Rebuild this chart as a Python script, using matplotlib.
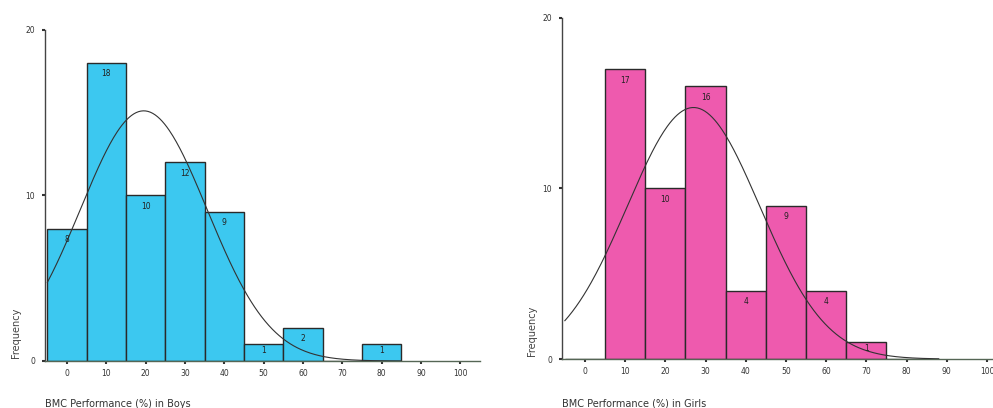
import numpy as np
import matplotlib
matplotlib.use("Agg")
import matplotlib.pyplot as plt

# bin centres (width 10) and counts
bins = [0, 10, 20, 30, 40, 50, 60, 70, 80]
boys = [8, 18, 10, 12, 9, 1, 2, 0, 1]
girls = [0, 17, 10, 16, 4, 9, 4, 1, 0]
xticks = [0, 10, 20, 30, 40, 50, 60, 70, 80, 90, 100]
yticks = [0, 10, 20]

# fitted normal curves (mean, sd) as drawn in the picture
boys_fit = (19.5, 16.1)
girls_fit = (27.0, 16.5)


def normal_curve(counts, fit, x):
    mu, sd = fit
    n = sum(counts)
    return n * 10 / (sd * np.sqrt(2 * np.pi)) * np.exp(-(x - mu) ** 2 / (2 * sd ** 2))


def draw(ax, counts, fit, color, xlim, xlabel, curve_end):
    ax.bar(bins, counts, width=10, color=color, edgecolor="#2a2a2a", linewidth=1.0, zorder=2)
    for b, c in zip(bins, counts):
        if c > 0:
            off = min(0.65, c / 2.7)
            ax.text(b, c - off, str(c), ha="center", va="center", fontsize=5.5,
                    color="#222222", zorder=4)
    xs = np.linspace(-5, curve_end, 300)
    ax.plot(xs, normal_curve(counts, fit, xs), color="#333333", linewidth=0.8, zorder=3)

    ax.set_xlim(xlim)
    ax.set_ylim(0, 20)
    ax.set_xticks(xticks)
    ax.set_yticks(yticks)
    ax.tick_params(axis="x", length=2, width=1.5, labelsize=5.5, colors="#333333", pad=4)
    ax.tick_params(axis="y", length=2, width=1.5, labelsize=5.5, colors="#333333", pad=5)
    for s in ["top", "right"]:
        ax.spines[s].set_visible(False)
    ax.spines["left"].set_color("#444444")
    ax.spines["bottom"].set_color("#556655")
    ax.spines["left"].set_linewidth(1.0)
    ax.spines["bottom"].set_linewidth(1.0)
    ax.set_facecolor("none")
    ax.text(0.0, -0.13, xlabel, transform=ax.transAxes, fontsize=7, color="#333333",
            ha="left", va="center")


fig = plt.figure(figsize=(9.93, 4.08), dpi=100)
fig.patch.set_facecolor("white")

ax1 = fig.add_axes([0.0453, 0.1152, 0.4381, 0.8113])
draw(ax1, boys, boys_fit, "#3cc8f0", (-5.6, 105), "BMC Performance (%) in Boys", 85)
fig.text(0.016, 0.185, "Frequency", rotation=90, fontsize=7, color="#444444",
         ha="center", va="center")

ax2 = fig.add_axes([0.566, 0.120, 0.434, 0.836])
draw(ax2, girls, girls_fit, "#ee5aae", (-5.7, 101.5), "BMC Performance (%) in Girls", 88)
fig.text(0.536, 0.19, "Frequency", rotation=90, fontsize=7, color="#444444",
         ha="center", va="center")

fig.savefig("out.png", dpi=100)
